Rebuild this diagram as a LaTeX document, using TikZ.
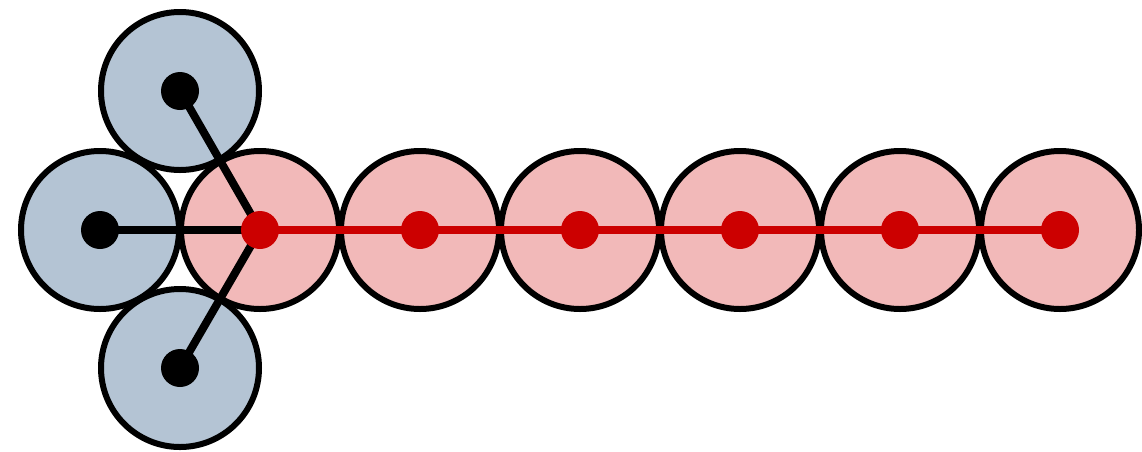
\documentclass[tikz,border=0pt]{standalone}
\definecolor{bluefill}{HTML}{B4C4D4}
\definecolor{redfill}{HTML}{F2B9B9}
\definecolor{reddot}{HTML}{CC0000}
\tikzset{
  bead/.style={circle, draw=black, line width=6pt, minimum size=158pt, inner sep=0pt},
  bluebead/.style={bead, fill=bluefill},
  redbead/.style={bead, fill=redfill},
  dotblack/.style={circle, fill=black, minimum size=38pt, inner sep=0pt},
  dotred/.style={circle, fill=reddot, minimum size=38pt, inner sep=0pt},
  bondblack/.style={line width=8pt, black},
  bondred/.style={line width=8pt, reddot},
}
\begin{document}
\begin{tikzpicture}[x=1pt,y=-1pt]
\useasboundingbox (0,0) rectangle (1142,451);
% beads
\node[bluebead] (bt) at (180,91) {};
\node[bluebead] (bl) at (100,230) {};
\node[bluebead] (bb) at (180,368) {};
\foreach \i/\x in {1/260,2/420,3/580,4/740,5/900,6/1060}{
  \node[redbead] (r\i) at (\x,230) {};
}
% centre coordinates
\foreach \n in {bt,bl,bb}{ \coordinate (c\n) at (\n.center); }
\foreach \i in {1,...,6}{ \coordinate (cr\i) at (r\i.center); }
% bonds
\draw[bondblack] (cbt) -- (cr1);
\draw[bondblack] (cbl) -- (cr1);
\draw[bondblack] (cbb) -- (cr1);
\draw[bondred] (cr1) -- (cr2) -- (cr3) -- (cr4) -- (cr5) -- (cr6);
% dots
\node[dotblack] (dbt) at (cbt) {};
\node[dotblack] (dbl) at (cbl) {};
\node[dotblack] (dbb) at (cbb) {};
\foreach \i in {1,...,6}{ \node[dotred] (dr\i) at (cr\i) {}; }
\end{tikzpicture}
\end{document}
